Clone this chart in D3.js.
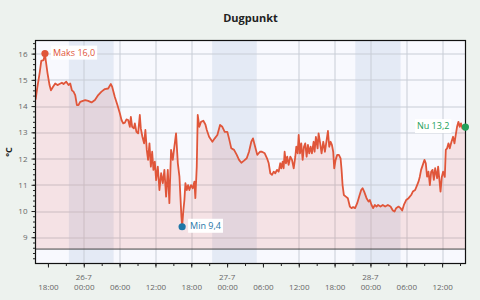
<!DOCTYPE html>
<html>
<head>
<meta charset="utf-8">
<script src="https://cdnjs.cloudflare.com/ajax/libs/d3/7.8.5/d3.min.js"></script>
<style>
  body { margin: 0; background: #edf2ee; font-family: "Open Sans", sans-serif; }
  svg { display: block; }
</style>
</head>
<body>
<div id="chart"></div>
<script>
// chart data (month-day hour:minute)
const chartTitle = "Dugpunkt";
const domainStart = "07-25 15:55";
const domainEnd = "07-28 15:55";

const times = [
  "07-25 15:56","07-25 16:13","07-25 16:36","07-25 16:53","07-25 17:16","07-25 17:30","07-25 17:40","07-25 17:56",
  "07-25 18:16","07-25 18:30","07-25 18:50","07-25 19:13","07-25 19:36","07-25 19:56","07-25 20:20","07-25 20:37",
  "07-25 21:04","07-25 21:27","07-25 21:44","07-25 22:01","07-25 22:17","07-25 22:34","07-25 22:51","07-25 23:07",
  "07-25 23:24","07-25 23:51","07-26 00:14","07-26 00:44","07-26 01:18","07-26 01:52","07-26 02:25","07-26 02:58",
  "07-26 03:32","07-26 04:05","07-26 04:32","07-26 04:45","07-26 05:12","07-26 05:38","07-26 06:03","07-26 06:19",
  "07-26 06:36","07-26 06:53","07-26 07:09","07-26 07:26","07-26 07:43","07-26 07:53","07-26 08:06","07-26 08:23",
  "07-26 08:33","07-26 08:49","07-26 09:06","07-26 09:23","07-26 09:33","07-26 09:49","07-26 10:06","07-26 10:19",
  "07-26 10:33","07-26 10:46","07-26 11:00","07-26 11:14","07-26 11:27","07-26 11:40","07-26 11:54","07-26 12:07",
  "07-26 12:24","07-26 12:40","07-26 12:57","07-26 13:14","07-26 13:30","07-26 13:47","07-26 14:04","07-26 14:20",
  "07-26 14:37","07-26 14:54","07-26 15:10","07-26 15:27","07-26 15:45","07-26 16:01","07-26 16:11","07-26 16:21",
  "07-26 16:28","07-26 16:41","07-26 16:51","07-26 17:01","07-26 17:15","07-26 17:28","07-26 17:41","07-26 17:58",
  "07-26 18:15","07-26 18:31","07-26 18:41","07-26 18:55","07-26 19:05","07-26 19:21","07-26 19:38","07-26 20:01",
  "07-26 20:22","07-26 20:36","07-26 20:59","07-26 21:32","07-26 21:56","07-26 22:22","07-26 22:49","07-26 23:12",
  "07-26 23:36","07-27 00:02","07-27 00:19","07-27 00:42","07-27 01:10","07-27 01:37","07-27 02:00","07-27 02:23",
  "07-27 02:50","07-27 03:17","07-27 03:40","07-27 04:03","07-27 04:20","07-27 04:37","07-27 05:03","07-27 05:30",
  "07-27 05:50","07-27 06:18","07-27 06:41","07-27 06:58","07-27 07:14","07-27 07:31","07-27 07:48","07-27 08:04",
  "07-27 08:21","07-27 08:38","07-27 08:54","07-27 09:04","07-27 09:18","07-27 09:28","07-27 09:38","07-27 09:51",
  "07-27 10:04","07-27 10:18","07-27 10:35","07-27 10:52","07-27 11:09","07-27 11:25","07-27 11:35","07-27 11:49",
  "07-27 11:59","07-27 12:12","07-27 12:25","07-27 12:39","07-27 12:52","07-27 13:05","07-27 13:19","07-27 13:32",
  "07-27 13:45","07-27 13:59","07-27 14:12","07-27 14:29","07-27 14:39","07-27 14:52","07-27 15:09","07-27 15:19",
  "07-27 15:35","07-27 15:49","07-27 16:06","07-27 16:23","07-27 16:40","07-27 16:53","07-27 17:06","07-27 17:20",
  "07-27 17:33","07-27 17:46","07-27 17:56","07-27 18:10","07-27 18:26","07-27 18:43","07-27 19:00","07-27 19:10",
  "07-27 19:20","07-27 19:33","07-27 19:53","07-27 20:13","07-27 20:33","07-27 20:50","07-27 21:06","07-27 21:26",
  "07-27 21:47","07-27 22:07","07-27 22:27","07-27 22:41","07-27 22:57","07-27 23:21","07-27 23:41","07-27 23:54",
  "07-28 00:11","07-28 00:27","07-28 00:44","07-28 01:01","07-28 01:17","07-28 01:41","07-28 02:04","07-28 02:28",
  "07-28 02:55","07-28 03:22","07-28 03:45","07-28 04:02","07-28 04:18","07-28 04:42","07-28 05:02","07-28 05:19",
  "07-28 05:36","07-28 05:59","07-28 06:23","07-28 06:49","07-28 07:06","07-28 07:29","07-28 07:49","07-28 08:03",
  "07-28 08:16","07-28 08:29","07-28 08:46","07-28 09:03","07-28 09:16","07-28 09:29","07-28 09:43","07-28 09:57",
  "07-28 10:10","07-28 10:24","07-28 10:37","07-28 10:50","07-28 11:10","07-28 11:20","07-28 11:30","07-28 11:44",
  "07-28 11:57","07-28 12:10","07-28 12:27","07-28 12:37","07-28 12:50","07-28 13:04","07-28 13:17","07-28 13:34",
  "07-28 13:50","07-28 14:04","07-28 14:17","07-28 14:30","07-28 14:44","07-28 14:57","07-28 15:10","07-28 15:24",
  "07-28 15:37","07-28 15:54"
];

const dewPoint = [
  14.25,14.7,15.25,15.72,15.75,16.0,15.69,15.25,
  14.8,14.6,14.73,14.86,14.8,14.84,14.89,14.84,
  14.93,14.8,14.86,14.6,14.55,14.42,14.04,14.04,
  14.16,14.2,14.23,14.2,14.14,14.23,14.42,14.55,
  14.65,14.67,14.84,14.74,14.35,14.04,13.72,13.47,
  13.34,13.37,13.49,13.47,13.21,13.59,13.21,13.15,
  13.34,13.02,12.96,13.66,13.15,12.83,12.58,13.09,
  12.33,11.95,12.58,11.69,12.26,11.57,11.88,11.18,
  11.69,10.8,11.44,11.06,11.57,10.55,11.57,10.3,
  12.33,11.95,12.45,12.96,11.82,11.31,10.55,9.79,
  9.4,10.04,10.42,11.06,10.8,10.99,10.8,10.99,
  10.87,11.12,10.49,11.69,13.66,13.21,13.4,13.44,
  13.3,13.09,12.83,12.64,12.77,12.9,13.28,13.21,
  13.02,13.02,12.77,12.39,12.33,12.14,11.95,11.84,
  11.92,12.01,12.26,12.64,12.77,12.52,12.14,12.26,
  12.26,12.2,12.01,11.82,11.44,11.38,11.5,11.44,
  11.57,11.5,11.82,11.63,11.88,11.63,12.26,11.82,
  12.07,11.76,12.07,11.95,11.63,12.07,12.45,12.2,
  12.9,12.2,12.58,11.95,12.45,12.58,12.07,12.52,
  12.2,12.45,12.2,12.64,12.26,12.83,12.39,12.96,
  12.58,12.2,12.64,12.26,12.71,13.05,12.45,12.64,
  12.52,12.26,11.63,11.95,12.14,12.14,12.01,11.57,
  10.99,10.61,10.55,10.49,10.17,10.11,10.15,10.11,
  10.3,10.55,10.8,10.87,10.74,10.49,10.36,10.42,
  10.23,10.11,10.23,10.17,10.23,10.17,10.23,10.17,
  10.23,10.17,10.02,9.98,10.11,10.17,10.11,10.02,
  10.23,10.42,10.49,10.61,10.74,10.8,10.99,11.12,
  11.31,11.57,11.76,11.95,11.82,11.31,11.5,10.99,
  11.5,11.57,11.19,11.63,11.25,11.69,11.3,10.74,
  11.3,11.5,11.3,12.33,12.39,12.58,12.39,12.64,
  12.83,12.58,12.9,13.21,13.4,13.21,13.34,13.15,
  13.15,13.2
];

// night periods (sunset -> sunrise)
const nightStarts = ["07-25 21:30", "07-26 21:30", "07-27 21:28"];
const nightEnds = ["07-26 05:00", "07-27 04:58", "07-28 05:03"];

// vertical grid lines that show in the original
const gridTimes = [
  "07-26 00:00", "07-26 06:00", "07-26 12:00", "07-26 18:00",
  "07-27 12:00", "07-27 18:00", "07-28 00:00", "07-28 06:00", "07-28 12:00"
];

// y axis
const yMin = 8;
const yMax = 16.5;
const yTicks = [9, 10, 11, 12, 13, 14, 15, 16];
const baselineValue = 8.55;

// labels for the markers
const maxLabel = "Maks";
const minLabel = "Min";
const nowLabel = "Nu";

// svg setup
let svgWidth = 480;
let svgHeight = 300;
let margin = { top: 40.5, bottom: 36.5, left: 35.5, right: 14.5 };
let width = svgWidth - margin.left - margin.right;
let height = svgHeight - margin.top - margin.bottom;

const parseTime = s => d3.timeParse("%Y-%m-%d %H:%M")("2024-" + s);
const fmtNum = v => v.toFixed(1).replace(".", ",");

let data = times.map((t, i) => ({ date: parseTime(t), value: dewPoint[i] }));

let svg = d3.select("#chart")
  .append("svg")
  .attr("width", svgWidth)
  .attr("height", svgHeight);

// title
svg.append("text")
  .attr("x", margin.left + width / 2)
  .attr("y", 21.5)
  .attr("text-anchor", "middle")
  .attr("font-size", "11px")
  .attr("font-weight", "bold")
  .attr("fill", "#222")
  .text(chartTitle);

let chartGroup = svg.append("g")
  .attr("transform", `translate(${margin.left},${margin.top})`);

let x = d3.scaleTime()
  .domain([parseTime(domainStart), parseTime(domainEnd)])
  .range([0, width]);
let y = d3.scaleLinear()
  .domain([yMin, yMax])
  .range([height, 0]);

// plot background
chartGroup.append("rect")
  .attr("width", width)
  .attr("height", height)
  .attr("fill", "#f8f9fe");

// night bands
chartGroup.selectAll(".night")
  .data(nightStarts.map((s, i) => [parseTime(s), parseTime(nightEnds[i])]))
  .enter()
  .append("rect")
  .attr("x", d => x(d[0]))
  .attr("width", d => x(d[1]) - x(d[0]))
  .attr("y", 0)
  .attr("height", height)
  .attr("fill", "#e4eaf5");

// grid
const majorTimes = d3.timeHour.every(6).range(parseTime(domainStart), parseTime(domainEnd));
const minorTimes = d3.timeHour.every(3).range(parseTime(domainStart), parseTime(domainEnd));

chartGroup.append("g")
  .selectAll("line")
  .data(yTicks)
  .enter()
  .append("line")
  .attr("x1", 0)
  .attr("x2", width)
  .attr("y1", d => Math.round(y(d)) + 0.5)
  .attr("y2", d => Math.round(y(d)) + 0.5)
  .attr("stroke", "#c8cdd6");

chartGroup.append("g")
  .selectAll("line")
  .data(gridTimes.map(parseTime))
  .enter()
  .append("line")
  .attr("x1", d => Math.round(x(d)) + 0.5)
  .attr("x2", d => Math.round(x(d)) + 0.5)
  .attr("y1", 0)
  .attr("y2", height)
  .attr("stroke", "#c8cdd6");

// area + line
let clip = chartGroup.append("clipPath").attr("id", "clip")
  .append("rect").attr("width", width).attr("height", height);

chartGroup.append("path")
  .datum(data)
  .attr("clip-path", "url(#clip)")
  .attr("fill", "rgba(225, 80, 60, 0.13)")
  .attr("d", d3.area()
    .x(d => x(d.date))
    .y0(y(baselineValue))
    .y1(d => y(d.value)));

chartGroup.append("line")
  .attr("x1", 0)
  .attr("x2", width)
  .attr("y1", y(baselineValue))
  .attr("y2", y(baselineValue))
  .attr("stroke", "#444")
  .attr("stroke-width", 1);

chartGroup.append("path")
  .datum(data)
  .attr("clip-path", "url(#clip)")
  .attr("fill", "none")
  .attr("stroke", "#e0563a")
  .attr("stroke-width", 1.8)
  .attr("stroke-linejoin", "round")
  .attr("d", d3.line()
    .x(d => x(d.date))
    .y(d => y(d.value)));

// frame
chartGroup.append("rect")
  .attr("width", width)
  .attr("height", height)
  .attr("fill", "none")
  .attr("stroke", "#111")
  .attr("stroke-width", 1.2);

// axes
let xMinor = chartGroup.append("g")
  .attr("transform", `translate(0,${height})`)
  .call(d3.axisBottom(x).tickValues(minorTimes).tickSize(2.5).tickFormat(""));
let xAxis = chartGroup.append("g")
  .attr("transform", `translate(0,${height})`)
  .call(d3.axisBottom(x).tickValues(majorTimes).tickSize(4).tickPadding(17).tickFormat(d3.timeFormat("%H:%M")));

let yMinor = chartGroup.append("g")
  .call(d3.axisLeft(y).tickValues(d3.range(41, 83).map(v => v / 5)).tickSize(2.5).tickFormat(""));
let yAxis = chartGroup.append("g")
  .call(d3.axisLeft(y).tickValues(yTicks).tickSize(4).tickPadding(4));

[xMinor, xAxis, yMinor, yAxis].forEach(a => {
  a.select(".domain").remove();
  a.selectAll(".tick line").attr("stroke", "#222");
  a.selectAll("text")
    .attr("font-family", "Open Sans, sans-serif")
    .attr("font-size", "8px")
    .attr("fill", "#666");
});

// date labels at midnight
chartGroup.selectAll(".dateLabel")
  .data(majorTimes.filter(d => d.getHours() === 0))
  .enter()
  .append("text")
  .attr("x", d => x(d))
  .attr("y", height + 16)
  .attr("text-anchor", "middle")
  .attr("font-size", "8px")
  .attr("fill", "#666")
  .text(d3.timeFormat("%-d-%-m"));

// y label
svg.append("text")
  .attr("transform", "rotate(-90)")
  .attr("x", -(margin.top + height / 2))
  .attr("y", 12)
  .attr("text-anchor", "middle")
  .attr("font-size", "9px")
  .attr("font-weight", "bold")
  .attr("fill", "#222")
  .text("°C");

// markers
const maxPoint = d3.greatest(data, d => d.value);
const minPoint = d3.least(data, d => d.value);
const nowPoint = data[data.length - 1];

function addMarker(p, label, color, side) {
  let g = chartGroup.append("g");
  let px = x(p.date);
  let py = y(p.value);
  let box = g.append("rect").attr("fill", "#fff");
  let txt = g.append("text")
    .attr("font-size", "9px")
    .attr("fill", color)
    .attr("dy", "0.35em")
    .attr("y", py - 1)
    .text(`${label} ${fmtNum(p.value)}`);
  let tw = txt.node().getComputedTextLength();
  let tx = side === "right" ? px + 8 : px - 16 - tw;
  txt.attr("x", tx);
  box.attr("x", tx - 2)
    .attr("y", py - 8)
    .attr("width", tw + 4)
    .attr("height", 14);
  g.append("circle")
    .attr("cx", px)
    .attr("cy", py)
    .attr("r", 3.6)
    .attr("fill", color);
}

addMarker(maxPoint, maxLabel, "#e0563a", "right");
addMarker(minPoint, minLabel, "#1f77a8", "right");
addMarker(nowPoint, nowLabel, "#23a05a", "left");
</script>
</body>
</html>
